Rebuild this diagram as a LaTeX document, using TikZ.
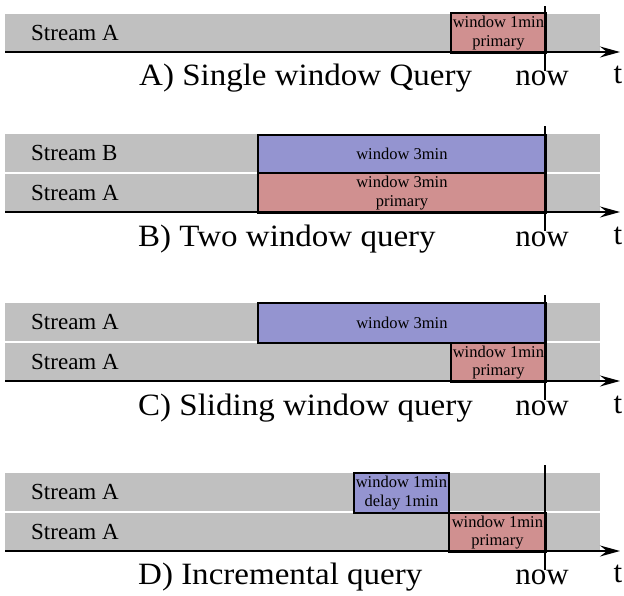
\documentclass[tikz,border=0pt]{standalone}
\usepackage{fontspec}
\setmainfont{Liberation Serif}
\newfontfamily\capfont[FakeStretch=1.065]{Liberation Serif}
\usetikzlibrary{arrows.meta}
\definecolor{bandgrey}{RGB}{192,192,192}
\definecolor{winblue}{RGB}{148,148,208}
\definecolor{winred}{RGB}{208,144,144}
\begin{document}
\begin{tikzpicture}[x=1pt,y=-1pt,
  band/.style={fill=bandgrey, draw=none, inner sep=0pt, minimum width=595pt, minimum height=38pt, anchor=north west},
  win/.style={draw=black, line width=1.8pt, inner sep=0pt, anchor=north west, align=center,
    font=\fontsize{16.5}{18.5}\selectfont},
  bluewin/.style={win, fill=winblue},
  redwin/.style={win, fill=winred},
  streamlbl/.style={anchor=west, inner sep=0pt, font=\fontsize{23}{26}\selectfont},
  biglbl/.style={inner sep=0pt, font=\fontsize{31}{34}\selectfont},
  caplbl/.style={inner sep=0pt, font=\capfont\fontsize{31}{34}\selectfont},
  axis/.style={line width=1.8pt, -{Stealth[length=20pt, width=11pt, inset=7pt]}},
  nowline/.style={line width=1.8pt}
]
\useasboundingbox (0,0) rectangle (624,595);

% ---------- Panel A ----------
\node[band] (bandA1) at (5,14) {};
\node[streamlbl] (sA1) at (31,33) {Stream A};
\node[redwin, minimum width=95pt, minimum height=40pt] (wA1) at (450,12) {window 1min\\primary};
\coordinate (axA0) at (5,52);
\coordinate (axA1) at (620,52);
\draw[axis] (axA0) -- (axA1);
\coordinate (nA0) at (545,6);
\coordinate (nA1) at (545,71);
\draw[nowline] (nA0) -- (nA1);
\node[caplbl, anchor=base west] (capA) at (139,85) {A) Single window Query};
\node[biglbl, anchor=base] (nowA) at (542,85) {now};
\node[biglbl, anchor=base] (tA) at (618,83) {t};

% ---------- Panel B ----------
\node[band] (bandB1) at (5,134) {};
\node[band] (bandB2) at (5,174) {};
\node[streamlbl] (sB1) at (31,153) {Stream B};
\node[streamlbl] (sB2) at (31,193) {Stream A};
\node[bluewin, minimum width=288pt, minimum height=38pt] (wB1) at (257,134) {window 3min};
\node[redwin, minimum width=288pt, minimum height=40pt] (wB2) at (257,172) {window 3min\\primary};
\coordinate (axB0) at (5,212);
\coordinate (axB1) at (620,212);
\draw[axis] (axB0) -- (axB1);
\coordinate (nB0) at (545,126);
\coordinate (nB1) at (545,231);
\draw[nowline] (nB0) -- (nB1);
\node[caplbl, anchor=base west] (capB) at (138,246) {B) Two window query};
\node[biglbl, anchor=base] (nowB) at (542,246) {now};
\node[biglbl, anchor=base] (tB) at (618,244) {t};

% ---------- Panel C ----------
\node[band] (bandC1) at (5,303) {};
\node[band] (bandC2) at (5,343) {};
\node[streamlbl] (sC1) at (31,322) {Stream A};
\node[streamlbl] (sC2) at (31,362) {Stream A};
\node[bluewin, minimum width=288pt, minimum height=40pt] (wC1) at (257,302) {window 3min};
\node[redwin, minimum width=95pt, minimum height=39pt] (wC2) at (450,342) {window 1min\\primary};
\coordinate (axC0) at (5,381);
\coordinate (axC1) at (620,381);
\draw[axis] (axC0) -- (axC1);
\coordinate (nC0) at (545,295);
\coordinate (nC1) at (545,400);
\draw[nowline] (nC0) -- (nC1);
\node[caplbl, anchor=base west] (capC) at (138,415) {C) Sliding window query};
\node[biglbl, anchor=base] (nowC) at (542,415) {now};
\node[biglbl, anchor=base] (tC) at (618,413) {t};

% ---------- Panel D ----------
\node[band] (bandD1) at (5,473) {};
\node[band] (bandD2) at (5,513) {};
\node[streamlbl] (sD1) at (31,492) {Stream A};
\node[streamlbl] (sD2) at (31,532) {Stream A};
\node[bluewin, minimum width=95pt, minimum height=40pt] (wD1) at (353,472) {window 1min\\delay 1min};
\node[redwin, minimum width=97pt, minimum height=39pt] (wD2) at (448,512) {window 1min\\primary};
\coordinate (axD0) at (5,551);
\coordinate (axD1) at (620,551);
\draw[axis] (axD0) -- (axD1);
\coordinate (nD0) at (545,465);
\coordinate (nD1) at (545,570);
\draw[nowline] (nD0) -- (nD1);
\node[caplbl, anchor=base west] (capD) at (138,584) {D) Incremental query};
\node[biglbl, anchor=base] (nowD) at (542,584) {now};
\node[biglbl, anchor=base] (tD) at (618,582) {t};
\end{tikzpicture}
\end{document}
